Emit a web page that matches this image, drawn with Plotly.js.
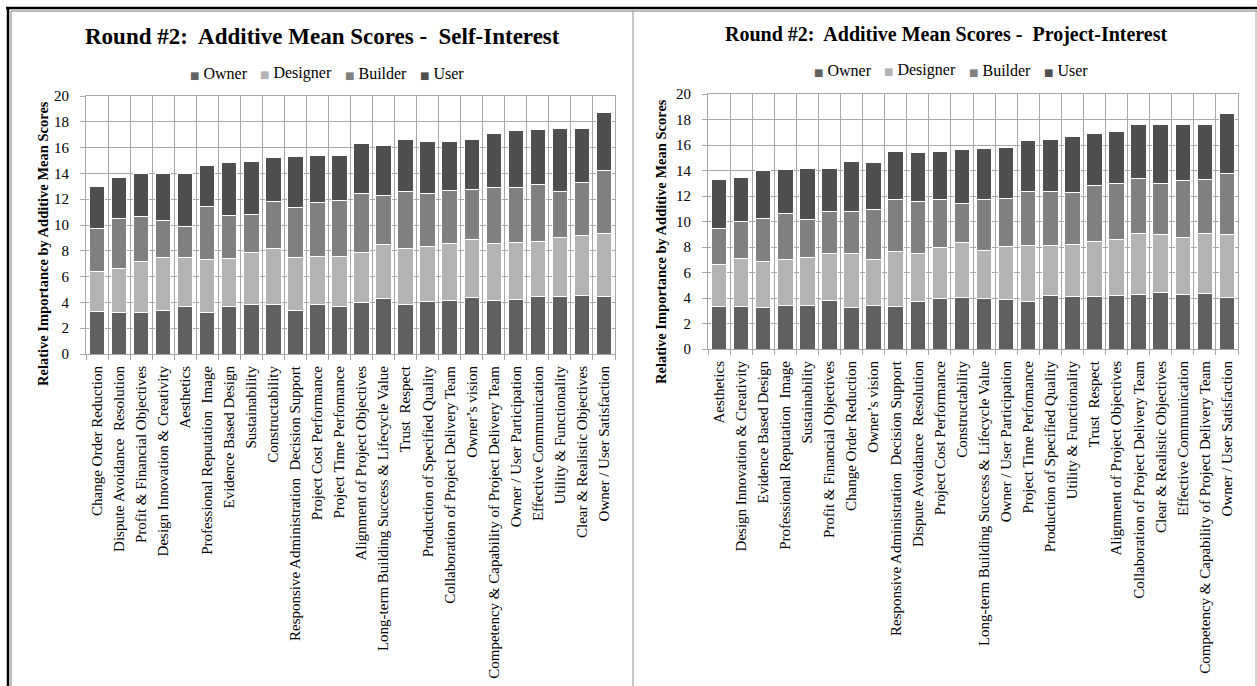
<!DOCTYPE html>
<html>
<head>
<meta charset="utf-8">
<script src="https://cdn.plot.ly/plotly-3.0.1.min.js"></script>
<style>
  html, body { margin: 0; padding: 0; background: #ffffff; }
  #chart { width: 1257px; height: 686px; }
</style>
</head>
<body>
<div id="chart"></div>
<script>
// Self-interest ranking (left panel)
const catsSelf = [
  "Change Order Reduction", "Dispute Avoidance  Resolution", "Profit & Financial Objectives",
  "Design Innovation & Creativity", "Aesthetics", "Professional Reputation  Image",
  "Evidence Based Design", "Sustainability", "Constructability",
  "Responsive Administration  Decision Support", "Project Cost Performance", "Project Time Perfomance",
  "Alignment of Project Objectives", "Long-term Building Success & Lifecycle Value", "Trust  Respect",
  "Production of Specified Quality", "Collaboration of Project Delivery Team", "Owner\u2019s vision",
  "Competency & Capability of Project Delivery Team", "Owner / User Participation", "Effective Communication",
  "Utility & Functionality", "Clear & Realistic Objectives", "Owner / User Satisfaction"
];
const ownerSelf    = [3.33, 3.20, 3.20, 3.38, 3.72, 3.20, 3.72, 3.87, 3.82, 3.41, 3.82, 3.72, 4.00, 4.28, 3.82, 4.05, 4.13, 4.39, 4.13, 4.21, 4.46, 4.46, 4.54, 4.46];
const designerSelf = [3.10, 3.46, 3.96, 4.13, 3.79, 4.11, 3.67, 3.98, 4.33, 4.05, 3.77, 3.87, 3.87, 4.21, 4.33, 4.26, 4.44, 4.49, 4.44, 4.44, 4.24, 4.57, 4.65, 4.88];
const builderSelf  = [3.32, 3.84, 3.47, 2.81, 2.37, 4.11, 3.36, 3.00, 3.64, 3.89, 4.15, 4.31, 4.54, 3.79, 4.42, 4.13, 4.08, 3.87, 4.31, 4.23, 4.44, 3.56, 4.13, 4.85];
const userSelf     = [3.22, 3.18, 3.37, 3.67, 4.11, 3.20, 4.08, 4.09, 3.41, 3.93, 3.61, 3.51, 3.87, 3.92, 4.05, 4.05, 3.84, 3.87, 4.23, 4.41, 4.23, 4.86, 4.18, 4.55];

// Project-interest ranking (right panel)
const catsProject = [
  "Aesthetics", "Design Innovation & Creativity", "Evidence Based Design",
  "Professional Reputation  Image", "Sustainability", "Profit & Financial Objectives",
  "Change Order Reduction", "Owner\u2019s vision", "Responsive Administration  Decision Support",
  "Dispute Avoidance  Resolution", "Project Cost Performance", "Constructability",
  "Long-term Building Success & Lifecycle Value", "Owner / User Participation", "Project Time Perfomance",
  "Production of Specified Quality", "Utility & Functionality", "Trust  Respect",
  "Alignment of Project Objectives", "Collaboration of Project Delivery Team", "Clear & Realistic Objectives",
  "Effective Communication", "Competency & Capability of Project Delivery Team", "Owner / User Satisfaction"
];
const ownerProject    = [3.37, 3.37, 3.29, 3.45, 3.45, 3.84, 3.29, 3.45, 3.37, 3.74, 3.97, 4.03, 3.97, 3.90, 3.74, 4.21, 4.13, 4.13, 4.21, 4.29, 4.44, 4.29, 4.37, 4.05];
const designerProject = [3.24, 3.71, 3.60, 3.55, 3.71, 3.68, 4.23, 3.58, 4.24, 3.76, 4.00, 4.34, 3.77, 4.15, 4.39, 3.92, 4.08, 4.34, 4.34, 4.78, 4.55, 4.47, 4.70, 4.94];
const builderProject  = [2.82, 2.92, 3.37, 3.60, 3.00, 3.29, 3.29, 3.94, 4.10, 4.08, 3.77, 3.05, 4.00, 3.74, 4.26, 4.26, 4.05, 4.34, 4.44, 4.29, 4.03, 4.42, 4.24, 4.79];
const userProject     = [3.86, 3.42, 3.71, 3.45, 3.97, 3.32, 3.87, 3.63, 3.77, 3.84, 3.74, 4.19, 4.02, 4.05, 3.98, 4.05, 4.39, 4.08, 4.08, 4.21, 4.60, 4.44, 4.31, 4.68];

const roles = ["Owner", "Designer", "Builder", "User"];
const roleColors = ["#606060", "#b3b3b3", "#808080", "#4e4f4e"];
// horizontal offset of each key entry from the start of the key row
const keyOffsets = [0, 70, 155, 230];

const W = 1257, H = 686;
const px = v => v / W;          // horizontal pixel -> paper fraction
const py = v => 1 - v / H;      // vertical pixel (from top) -> paper fraction

const serif = "Liberation Serif, Times New Roman, serif";
const NB = "\u00A0";

function stack(cats, series, xa, ya) {
  return series.map((vals, i) => ({
    type: "bar",
    name: roles[i],
    x: cats,
    y: vals,
    xaxis: xa,
    yaxis: ya,
    showlegend: false,
    marker: { color: roleColors[i], line: { color: "#ffffff", width: 1 } },
    hoverinfo: "x+y+name"
  }));
}

const data = [
  ...stack(catsSelf, [ownerSelf, designerSelf, builderSelf, userSelf], "x", "y"),
  ...stack(catsProject, [ownerProject, designerProject, builderProject, userProject], "x2", "y2")
];

const gridCol = "#a6a6a6";

function xAxis(domain, anchor) {
  return {
    domain: domain,
    anchor: anchor,
    type: "category",
    tickson: "boundaries",
    ticks: "outside",
    ticklen: 5,
    tickcolor: gridCol,
    tickangle: -90,
    ticklabelstandoff: 5,
    tickfont: { family: serif, size: 15, color: "#000000" },
    showgrid: true,
    gridcolor: gridCol,
    gridwidth: 1,
    showline: true,
    linecolor: gridCol,
    linewidth: 1,
    mirror: true,
    automargin: false,
    fixedrange: true
  };
}

function yAxis(domain, anchor) {
  return {
    domain: domain,
    anchor: anchor,
    range: [0, 20],
    dtick: 2,
    ticks: "outside",
    ticklen: 5,
    tickcolor: gridCol,
    ticklabelstandoff: 8,
    tickfont: { family: serif, size: 15, color: "#000000" },
    showgrid: true,
    gridcolor: gridCol,
    gridwidth: 1,
    zeroline: false,
    showline: true,
    linecolor: gridCol,
    linewidth: 1,
    mirror: true,
    automargin: false,
    fixedrange: true
  };
}

// Key entries: a small coloured square followed by the role name
function keyRow(x0, cy) {
  return roles.map((r, i) => ({
    text: `<span style="font-family:DejaVu Sans;font-size:10px;fill:${roleColors[i]}">\u25A0</span> ${r}`,
    xref: "paper", yref: "paper", x: px(x0 + keyOffsets[i]), y: py(cy),
    xanchor: "left", yanchor: "middle", showarrow: false,
    font: { family: serif, size: 16, color: "#000000" }
  }));
}

const line = (x0, y0, x1, y1, color, width) => ({
  type: "line", xref: "paper", yref: "paper",
  x0: px(x0), y0: py(y0), x1: px(x1), y1: py(y1),
  line: { color: color, width: width }
});

const layout = {
  width: W,
  height: H,
  margin: { l: 0, r: 0, t: 0, b: 0 },
  paper_bgcolor: "#ffffff",
  plot_bgcolor: "#ffffff",
  barmode: "stack",
  bargap: 0.3,
  showlegend: false,
  xaxis: xAxis([px(86), px(615)], "y"),
  yaxis: yAxis([py(354), py(96)], "x"),
  xaxis2: xAxis([px(708), px(1238)], "y2"),
  yaxis2: yAxis([py(349), py(94)], "x2"),
  annotations: [
    {
      text: "<b>Round #2:" + NB + " Additive Mean Scores -" + NB + " Self-Interest</b>",
      xref: "paper", yref: "paper", x: px(322), y: py(36),
      xanchor: "center", yanchor: "middle", showarrow: false,
      font: { family: serif, size: 23, color: "#000000" }
    },
    {
      text: "<b>Round #2:" + NB + " Additive Mean Scores -" + NB + " Project-Interest</b>",
      xref: "paper", yref: "paper", x: px(946), y: py(34),
      xanchor: "center", yanchor: "middle", showarrow: false,
      font: { family: serif, size: 20, color: "#000000" }
    },
    ...keyRow(188, 73),
    ...keyRow(812, 70),
    {
      text: "<b>Relative Importance by Additive Mean Scores</b>",
      xref: "paper", yref: "paper", x: px(43), y: py(244),
      xanchor: "center", yanchor: "middle", textangle: -90, showarrow: false,
      font: { family: serif, size: 14.5, color: "#000000" }
    },
    {
      text: "<b>Relative Importance by Additive Mean Scores</b>",
      xref: "paper", yref: "paper", x: px(661), y: py(242),
      xanchor: "center", yanchor: "middle", textangle: -90, showarrow: false,
      font: { family: serif, size: 14.5, color: "#000000" }
    }
  ],
  shapes: [
    // outer frame
    line(6, 8, 1257, 8, "#000000", 2.5),
    line(8, 7, 8, 686, "#000000", 2.5),
    line(11, 11, 1257, 11, "#a6a6a6", 1.5),
    line(11, 11, 11, 686, "#a6a6a6", 1.5),
    // divider between the two panels
    line(633, 11, 633, 686, "#8c8c8c", 1),
    line(1256, 11, 1256, 686, "#a6a6a6", 1)
  ]
};

Plotly.newPlot("chart", data, layout, { displayModeBar: false, staticPlot: true });
</script>
</body>
</html>
